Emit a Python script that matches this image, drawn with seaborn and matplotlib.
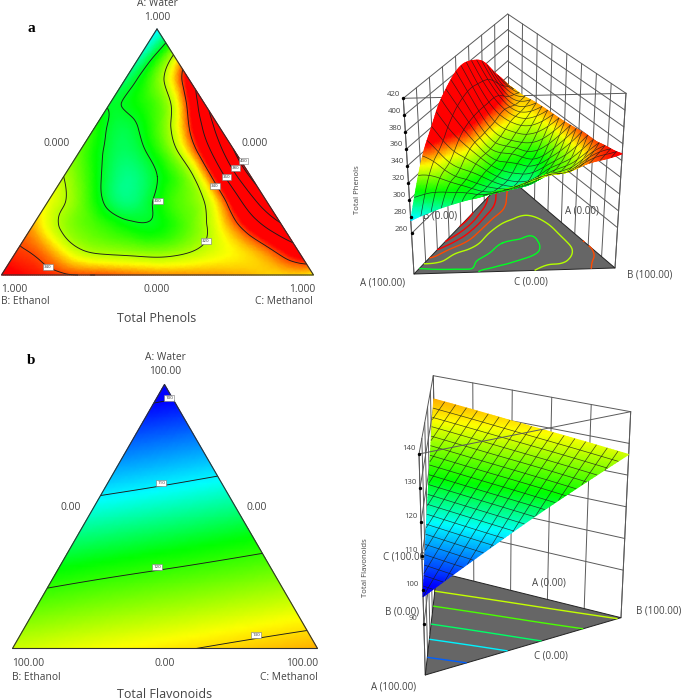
#!/usr/bin/env python
# -*- coding: utf-8 -*-

import numpy as np
import matplotlib as mpl
mpl.use('Agg')
import matplotlib.pyplot as plt
import matplotlib.tri as mtri
import seaborn as sns

## ============================ values

# total phenols, one list per water level, going from the ethanol side to the methanol side
phenols_a00 = [348, 344, 341, 340, 338, 336, 335, 334, 332, 330, 327]
phenols_a10 = [341, 334, 321, 317, 315, 316, 322, 328, 337, 353]
phenols_a20 = [333, 318, 310, 303, 302, 312, 327, 349, 377]
phenols_a30 = [326, 314, 296, 295, 309, 320, 352, 394]
phenols_a40 = [320, 304, 291, 300, 316, 352, 402]
phenols_a50 = [312, 297, 298, 316, 349, 401]
phenols_a60 = [306, 297, 310, 339, 390]
phenols_a70 = [299, 305, 322, 373]
phenols_a80 = [293, 314, 349]
phenols_a90 = [285, 318]
phenols_a100 = [275]
phenols = [phenols_a00, phenols_a10, phenols_a20, phenols_a30, phenols_a40, phenols_a50,
			phenols_a60, phenols_a70, phenols_a80, phenols_a90, phenols_a100]

# total flavonoids, same layout
flavonoids_a00 = [126.5, 128.0, 129.4, 130.9, 132.3]
flavonoids_a25 = [119.4, 120.9, 122.3, 123.8]
flavonoids_a50 = [112.3, 113.7, 115.2]
flavonoids_a75 = [105.1, 106.7]
flavonoids_a100 = [98.0]
flavonoids = [flavonoids_a00, flavonoids_a25, flavonoids_a50, flavonoids_a75, flavonoids_a100]

phenol_levels = [300, 320, 340, 360, 380, 400]
flavonoid_levels = [100, 110, 120, 130]
flavonoid_floor_levels = [104, 110, 115, 121, 126]
phenol_ticks = [260, 280, 300, 320, 340, 360, 380, 400, 420]
flavonoid_ticks = [90, 100, 110, 120, 130, 140]

## ============================ layout, in pixels of the 685x700 picture

TRI_A = {'A': (157., 29.), 'B': (1.5, 275.), 'C': (313.5, 275.)}
TRI_B = {'A': (164.5, 384.5), 'B': (12.5, 648.5), 'C': (317.5, 648.5)}

BOX_A = {'A0': (414., 274.), 'A1': (403.3, 98.3), 'B0': (615., 268.), 'B1': (626., 93.3),
		'C0': (507.7, 176.7), 'C1': (507.7, 14.), 'z0': 212., 'z1': 420.}
BOX_B = {'A0': (425.3, 675.), 'A1': (419., 454.), 'B0': (621., 617.7), 'B1': (630.7, 411.7),
		'C0': (437., 572.), 'C1': (433.3, 375.7), 'z0': 75., 'z1': 140.}

GREY = '#444444'

cmap_phenols = mpl.colors.LinearSegmentedColormap.from_list('phenols', [
	(0., '#0090ff'), (8./150, '#00ffff'), (20./150, '#00ff90'), (33./150, '#00ff00'),
	(57./150, '#ffff00'), (75./150, '#ff0000'), (1., '#ff0000')], N=512)
norm_phenols = mpl.colors.Normalize(270., 420.)

cmap_flavonoids = mpl.colors.LinearSegmentedColormap.from_list('flavonoids', [
	(0., '#0000ff'), (3./37, '#0000ff'), (13.5/37, '#00ffff'), (21./37, '#00ff00'),
	(31.5/37, '#ffff00'), (1., '#ff8c00')], N=512)
norm_flavonoids = mpl.colors.Normalize(97., 134.)

## ============================

def build_field(rows):
	n = len(rows) - 1
	x, y, z = [], [], []
	for i, row in enumerate(rows):
		for j, v in enumerate(row):
			x.append(j / n + i / n / 2.)
			y.append(i / n)
			z.append(v)
	z = np.array(z, dtype=float)
	tri = mtri.Triangulation(np.array(x), np.array(y))
	interp = mtri.CubicTriInterpolator(tri, z, kind='min_E')
	tri_fine, z_fine = mtri.UniformTriRefiner(tri).refine_field(z, triinterpolator=interp, subdiv=4)
	return tri_fine, z_fine, interp

def fractions(tri):
	a = tri.y
	c = tri.x - a / 2.
	return a, 1. - a - c, c

def to_ternary(corners, a, b, c):
	px = a * corners['A'][0] + b * corners['B'][0] + c * corners['C'][0]
	py = a * corners['A'][1] + b * corners['B'][1] + c * corners['C'][1]
	return px, py

def to_box(box, a, b, c, z):
	t = (np.asarray(z) - box['z0']) / (box['z1'] - box['z0'])
	out = []
	for k in [0, 1]:
		low = a * box['A0'][k] + b * box['B0'][k] + c * box['C0'][k]
		high = a * box['A1'][k] + b * box['B1'][k] + c * box['C1'][k]
		out.append(low * (1. - t) + high * t)
	return out

def label(ax, x, y, s, **kw):
	kw.setdefault('color', GREY)
	kw.setdefault('fontsize', 7.4)
	kw.setdefault('ha', 'center')
	kw.setdefault('va', 'center')
	ax.text(x, y, s, **kw)

def draw_ternary(ax, corners, field, cmap, norm, levels, level_labels):
	tri, z, _ = field
	a, b, c = fractions(tri)
	px, py = to_ternary(corners, a, b, c)
	flat = mtri.Triangulation(px, py, tri.triangles)
	ax.tripcolor(flat, z, cmap=cmap, norm=norm, shading='gouraud', zorder=2, rasterized=True)
	ax.tricontour(flat, z, levels=levels, colors='#1c1c1c', linewidths=0.65, zorder=3)
	xs = [corners[k][0] for k in 'ABCA']
	ys = [corners[k][1] for k in 'ABCA']
	ax.plot(xs, ys, color='#303030', lw=0.8, zorder=4)
	for x, y, s in level_labels:
		ax.text(x, y, s, fontsize=3.2, color='#333333', ha='center', va='center', zorder=6,
				bbox=dict(boxstyle='square,pad=0.25', fc='white', ec='#777777', lw=0.4))

def draw_box(ax, box, ticks, wall_div, front_over):
	wall = dict(color='#5a5a5a', lw=0.7, solid_capstyle='round')
	def seg(a0, b0, c0, z0, a1, b1, c1, z1, **kw):
		p0 = to_box(box, a0, b0, c0, z0)
		p1 = to_box(box, a1, b1, c1, z1)
		ax.plot([p0[0], p1[0]], [p0[1], p1[1]], **kw)
	z0, z1 = box['z0'], box['z1']
	for z in ticks:
		seg(1, 0, 0, z, 0, 0, 1, z, zorder=1, **wall)
		seg(0, 1, 0, z, 0, 0, 1, z, zorder=1, **wall)
	for s in np.linspace(0., 1., wall_div + 1):
		seg(s, 0, 1 - s, z0, s, 0, 1 - s, z1, zorder=1, **wall)
		seg(0, s, 1 - s, z0, 0, s, 1 - s, z1, zorder=1, **wall)
	seg(1, 0, 0, z0, 1, 0, 0, z1, zorder=1, **wall)
	seg(0, 1, 0, z0, 0, 1, 0, z1, zorder=1, **wall)
	seg(1, 0, 0, z1, 0, 1, 0, z1, zorder=5 if front_over else 1, **wall)

def draw_floor(ax, box, field, cmap, norm, levels):
	tri, z, _ = field
	a, b, c = fractions(tri)
	bx, by = to_box(box, a, b, c, np.full_like(z, box['z0']))
	floor = mtri.Triangulation(bx, by, tri.triangles)
	corner = [to_box(box, *w, box['z0']) for w in [(1., 0., 0.), (0., 1., 0.), (0., 0., 1.)]]
	ax.fill([p[0] for p in corner], [p[1] for p in corner], fc='#666666', ec='#222222', lw=0.7, zorder=2)
	for lev in levels:
		ax.tricontour(floor, z, levels=[lev], colors=[cmap(norm(lev))], linewidths=1.0, zorder=2.5)

def mesh_line(ax, box, interp, aa, cc):
	keep = (aa >= 0.) & (cc >= 0.) & (aa + cc <= 1.)
	if keep.sum() < 2:
		return
	aa, cc = aa[keep], cc[keep]
	zz = interp(cc + aa / 2., aa)
	mx, my = to_box(box, aa, 1. - aa - cc, cc, np.ma.filled(zz, np.nan))
	ax.plot(mx, my, color='#1a1a1a', lw=0.5, alpha=0.8, zorder=4.5)

def draw_surface_bands(ax, box, field, cmap, norm, n_mesh):
	# painted band by band from the back corner, so the hump hides what is behind it
	tri, z, interp = field
	a, b, c = fractions(tri)
	sx, sy = to_box(box, a, b, c, z)
	mean_c = c[tri.triangles].mean(axis=1)
	edges = np.linspace(0., 1., n_mesh + 1)
	eps = 1e-6
	for lo, hi in zip(edges[:-1][::-1], edges[1:][::-1]):
		sel = tri.triangles[(mean_c >= lo) & (mean_c < hi)]
		if lo == 0.:
			sel = tri.triangles[mean_c < hi]
		band = mtri.Triangulation(sx, sy, sel)
		ax.tripcolor(band, z, cmap=cmap, norm=norm, shading='gouraud', zorder=4.5, rasterized=True)
		if hi < 1.:
			aa = np.linspace(eps, 1. - hi - eps, 50)
			mesh_line(ax, box, interp, aa, np.full_like(aa, hi))
		for v in edges[1:-1]:
			cc = np.linspace(lo + eps, hi - eps, 8)
			mesh_line(ax, box, interp, 1. - v - cc, cc)

def draw_surface_flat(ax, box, field, cmap, norm, n_a, n_k):
	tri, z, interp = field
	a, b, c = fractions(tri)
	sx, sy = to_box(box, a, b, c, z)
	top = mtri.Triangulation(sx, sy, tri.triangles)
	ax.tripcolor(top, z, cmap=cmap, norm=norm, shading='gouraud', zorder=4, rasterized=True)
	eps = 1e-6
	for v in np.linspace(0., 1., n_a + 1)[1:-1]:
		cc = np.linspace(eps, 1. - v - eps, 30)
		mesh_line(ax, box, interp, np.full_like(cc, v), cc)
	for k in np.linspace(-1., 1., n_k + 1)[1:-1]:
		# lines of constant b - c, they run up from the front edge
		aa = np.linspace(eps, 1. - abs(k) - eps, 30)
		cc = (1. - aa - k) / 2.
		mesh_line(ax, box, interp, aa, cc)

def draw_ticks(ax, box, ticks, dx, dy):
	tx, ty = to_box(box, 1., 0., 0., np.array(ticks, dtype=float))
	sns.scatterplot(ax=ax, x=tx, y=ty, color='black', s=6, linewidth=0, legend=False, zorder=6)
	for x, y, t in zip(tx, ty, ticks):
		label(ax, x + dx, y + dy, str(t), fontsize=5.6, zorder=6)

## ============================

sns.set_theme(style='white')
plt.rcParams['font.family'] = ['Open Sans', 'DejaVu Sans']

fig = plt.figure(figsize=(6.85, 7.), dpi=100)
ax = fig.add_axes([0, 0, 1, 1])
ax.set_xlim(0, 685)
ax.set_ylim(700, 0)
sns.despine(ax=ax, left=True, bottom=True)
ax.set_xticks([])
ax.set_yticks([])

field_a = build_field(phenols)
field_b = build_field(flavonoids)

## ============================ a

draw_ternary(ax, TRI_A, field_a, cmap_phenols, norm_phenols, phenol_levels,
	[(158, 201, '300'), (206, 241, '320'), (215, 186, '340'), (226.5, 177, '360'),
	(235.5, 168, '380'), (243.5, 161, '400'), (48, 267, '340')])
label(ax, 157, 4, 'A: Water')
label(ax, 157, 18, '1.000')
label(ax, 57, 143, '0.000')
label(ax, 255, 143, '0.000')
label(ax, 14, 289, '1.000')
label(ax, 157, 289, '0.000')
label(ax, 302, 289, '1.000')
label(ax, 1, 302, 'B: Ethanol', ha='left')
label(ax, 313, 302, 'C: Methanol', ha='right')
label(ax, 157, 318, 'Total Phenols', fontsize=9)
label(ax, 31, 28, 'a', fontsize=11, fontweight='bold', family='Liberation Serif', color='black')

draw_box(ax, BOX_A, phenol_ticks, 8, False)
draw_floor(ax, BOX_A, field_a, cmap_phenols, norm_phenols, phenol_levels)
label(ax, 383, 283, 'A (100.00)', zorder=3, fontsize=7)
label(ax, 531, 282, 'C (0.00)', zorder=3, fontsize=7)
label(ax, 650, 275, 'B (100.00)', zorder=3, fontsize=7)
label(ax, 440, 216, 'B (0.00)', zorder=3, fontsize=7)
label(ax, 582, 211, 'A (0.00)', zorder=3, fontsize=7)
draw_surface_bands(ax, BOX_A, field_a, cmap_phenols, norm_phenols, 20)
draw_ticks(ax, BOX_A, phenol_ticks, -10, -4)
label(ax, 358, 190, 'Total Phenols', fontsize=5.6, rotation=90)

## ============================ b

draw_ternary(ax, TRI_B, field_b, cmap_flavonoids, norm_flavonoids, flavonoid_levels,
	[(169, 398, '100'), (161, 483, '110'), (157, 567, '120'), (256, 635, '130')])
label(ax, 165, 357, 'A: Water')
label(ax, 165, 372, '100.00')
label(ax, 71, 507, '0.00')
label(ax, 257, 507, '0.00')
label(ax, 28, 663, '100.00')
label(ax, 165, 663, '0.00')
label(ax, 302, 663, '100.00')
label(ax, 12.5, 677, 'B: Ethanol', ha='left')
label(ax, 317.5, 677, 'C: Methanol', ha='right')
label(ax, 165, 694, 'Total Flavonoids', fontsize=9)
label(ax, 31, 361, 'b', fontsize=11, fontweight='bold', family='Liberation Serif', color='black')

draw_box(ax, BOX_B, flavonoid_ticks, 5, True)
draw_floor(ax, BOX_B, field_b, cmap_flavonoids, norm_flavonoids, flavonoid_floor_levels)
draw_surface_flat(ax, BOX_B, field_b, cmap_flavonoids, norm_flavonoids, 20, 18)
draw_ticks(ax, BOX_B, flavonoid_ticks, -10.5, -5)
label(ax, 394, 687, 'A (100.00)', zorder=3, fontsize=7)
label(ax, 551, 656, 'C (0.00)', zorder=3, fontsize=7)
label(ax, 659, 611, 'B (100.00)', zorder=3, fontsize=7)
label(ax, 402, 612, 'B (0.00)', zorder=3, fontsize=7)
label(ax, 549, 583, 'A (0.00)', zorder=3, fontsize=7)
label(ax, 406, 557, 'C (100.00)', zorder=3, fontsize=7)
label(ax, 366, 568, 'Total Flavonoids', fontsize=5.6, rotation=90)

ax.set_xlim(0, 685)
ax.set_ylim(700, 0)
fig.savefig('out.png', dpi=100)
